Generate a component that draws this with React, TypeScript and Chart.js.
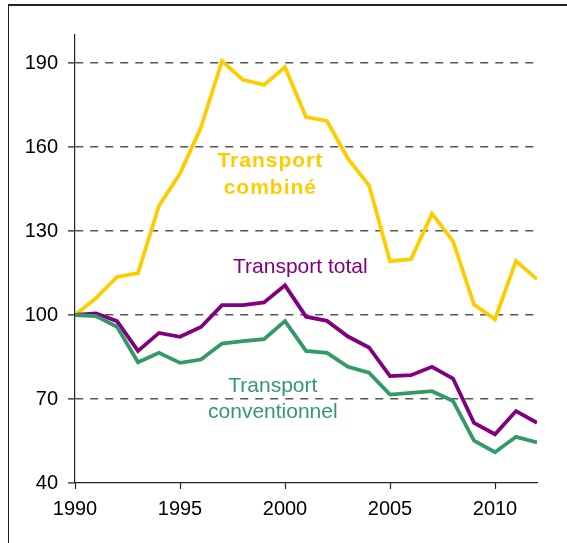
import React, { useEffect, useRef } from "react";
import { Chart, registerables } from "chart.js";

Chart.register(...registerables);

const years = [1990, 1991, 1992, 1993, 1994, 1995, 1996, 1997, 1998, 1999, 2000, 2001, 2002, 2003, 2004, 2005, 2006, 2007, 2008, 2009, 2010, 2011, 2012];
const transportCombine = [100, 106, 113.6, 115, 139, 150.5, 167, 190.7, 184, 182.2, 188.5, 170.7, 169.3, 155.8, 146.3, 119.2, 119.9, 136.2, 126.4, 103.7, 98.5, 119.3, 112.8];
const transportTotal = [100, 100.6, 97.8, 87.2, 93.6, 92.2, 95.7, 103.5, 103.5, 104.5, 110.6, 99.4, 97.9, 92.3, 88.4, 78.2, 78.5, 81.5, 77.3, 61.5, 57.4, 65.7, 61.5];
const transportConventionnel = [100, 99.6, 95.8, 83.1, 86.5, 82.9, 84.1, 89.8, 90.7, 91.4, 97.8, 87.2, 86.5, 81.5, 79.4, 71.6, 72.2, 72.8, 69.3, 55.1, 51, 56.5, 54.5];
const xTicks = [1990, 1995, 2000, 2005, 2010];
const yTicks = [40, 70, 100, 130, 160, 190];

const YELLOW = "#FFCC00";
const PURPLE = "#800080";
const GREEN = "#339966";
const FONT = "'Liberation Sans', Arial, sans-serif";

type Label = { lines: string[]; x: number; y: number[]; color: string; bold: boolean };
const labels: Label[] = [
  { lines: ["Transport", "combiné"], x: 1999.3, y: [153.0, 143.2], color: YELLOW, bold: true },
  { lines: ["Transport total"], x: 2000.73, y: [115.1], color: PURPLE, bold: false },
  { lines: ["Transport", "conventionnel"], x: 1999.42, y: [72.6, 63.1], color: GREEN, bold: false },
];

const labelPlugin = {
  id: "seriesLabels",
  afterDatasetsDraw(chart: any) {
    const { ctx, scales } = chart;
    ctx.save();
    ctx.textAlign = "center";
    ctx.textBaseline = "alphabetic";
    labels.forEach((l) => {
      ctx.fillStyle = l.color;
      ctx.font = `${l.bold ? "bold " : ""}21px ${FONT}`;
      (ctx as any).letterSpacing = l.bold ? "1px" : "0px";
      l.lines.forEach((t, i) => {
        ctx.fillText(t, scales.x.getPixelForValue(l.x), scales.y.getPixelForValue(l.y[i]));
      });
    });
    ctx.restore();
  },
};

export default function App() {
  const ref = useRef<HTMLCanvasElement | null>(null);
  useEffect(() => {
    if (!ref.current) return;
    const mk = (vals: number[]) => vals.map((v, i) => ({ x: years[i], y: v }));
    const ds = (label: string, vals: number[], color: string) => ({
      label,
      data: mk(vals),
      borderColor: color,
      backgroundColor: color,
      borderWidth: 3.8,
      pointRadius: 0,
      tension: 0,
      fill: false,
    });
    const chart = new Chart(ref.current, {
      type: "line",
      data: {
        datasets: [
          ds("Transport conventionnel", transportConventionnel, GREEN),
          ds("Transport total", transportTotal, PURPLE),
          ds("Transport combiné", transportCombine, YELLOW),
        ],
      },
      options: {
        responsive: false,
        animation: false,
        layout: { padding: { top: 35, right: 30, left: 0, bottom: 0 } },
        plugins: { legend: { display: false }, tooltip: { enabled: false } },
        scales: {
          x: {
            type: "linear",
            min: 1990,
            max: 2012,
            afterBuildTicks: (s: any) => {
              s.ticks = xTicks.map((v) => ({ value: v }));
            },
            afterFit: (s: any) => {
              s.height = 60;
            },
            border: { display: true, color: "#222", width: 1.2 },
            grid: {
              drawOnChartArea: false,
              drawTicks: true,
              tickLength: 6,
              tickColor: "#222",
              tickWidth: 1.2,
            },
            ticks: {
              autoSkip: false,
              maxRotation: 0,
              padding: 8,
              color: "#000",
              font: { family: FONT, size: 20 },
              callback: (v: any) => String(v),
            },
          },
          y: {
            type: "linear",
            min: 40,
            max: 200,
            afterBuildTicks: (s: any) => {
              s.ticks = yTicks.map((v) => ({ value: v }));
            },
            afterFit: (s: any) => {
              s.width = 75;
            },
            border: { display: true, color: "#222", width: 1.2, dash: [8, 7] },
            grid: {
              drawOnChartArea: true,
              drawTicks: true,
              tickLength: 7,
              tickColor: "#222",
              tickWidth: 1.2,
              tickBorderDash: [1, 0],
              color: (c: any) => (c.tick && c.tick.value === 40 ? "rgba(0,0,0,0)" : "#555"),
              lineWidth: 1.6,
            } as any,
            ticks: {
              padding: 10,
              color: "#000",
              font: { family: FONT, size: 20 },
              callback: (v: any) => String(v),
            },
          },
        },
      },
      plugins: [labelPlugin],
    } as any);
    return () => chart.destroy();
  }, []);

  return (
    <div style={{ position: "absolute", left: 0, top: 0, width: 567, height: 543, overflow: "hidden", background: "#fff" }}>
      <canvas ref={ref} width={567} height={543} style={{ position: "absolute", left: 0, top: 0, width: 567, height: 543 }} />
      <div
        style={{
          position: "absolute",
          left: 8,
          top: 4,
          width: 559,
          height: 539,
          boxSizing: "border-box",
          borderTop: "2px solid #222",
          borderLeft: "1.5px solid #222",
          pointerEvents: "none",
        }}
      />
    </div>
  );
}
